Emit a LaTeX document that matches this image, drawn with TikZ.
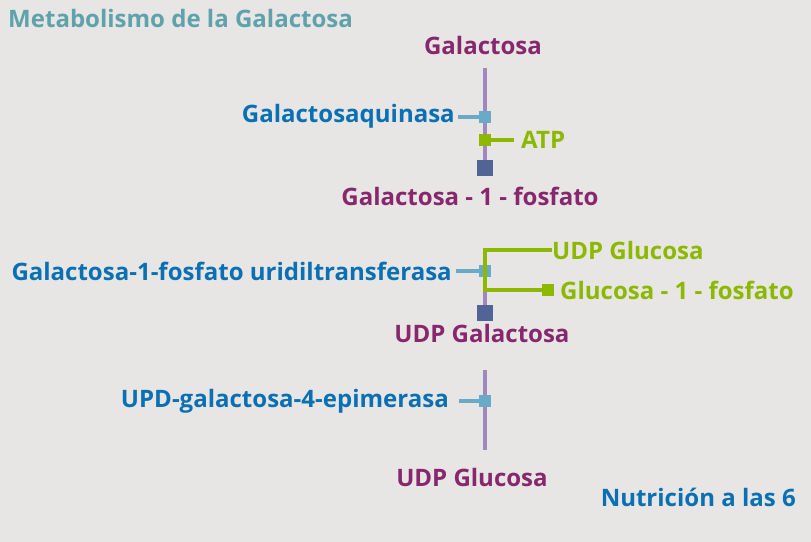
\documentclass[tikz,border=0pt]{standalone}
\usepackage{fontspec}
\setmainfont{Open Sans}
\usetikzlibrary{positioning}

\definecolor{fondo}{RGB}{232,230,228}
\definecolor{titulo}{RGB}{95,162,172}
\definecolor{azul}{RGB}{10,112,180}
\definecolor{morado}{RGB}{135,40,110}
\definecolor{verde}{RGB}{140,185,0}
\definecolor{eje}{RGB}{160,135,190}
\definecolor{enlace}{RGB}{105,170,200}
\definecolor{bloque}{RGB}{80,100,150}

\tikzset{
  txt/.style={font=\bfseries\fontsize{20.5}{23}\selectfont, inner sep=0pt},
  sustrato/.style={txt, text=morado},
  enzima/.style={txt, text=azul, anchor=east},
  cofactor/.style={txt, text=verde, anchor=west},
  sqenz/.style={fill=enlace, minimum size=10pt, inner sep=0pt},
  sqverde/.style={fill=verde, minimum size=10pt, inner sep=0pt},
  sqfin/.style={fill=bloque, minimum size=14pt, inner sep=0pt},
}

\begin{document}
\begin{tikzpicture}[x=0.03cm, y=-0.03cm]

% Background
\fill[fondo] (0,0) rectangle (811,542);
\useasboundingbox (0,0) rectangle (811,542);

% Axis position
\def\X{485}

% Titles
\node[txt, text=titulo, anchor=west] (title) at (8,18) {Metabolismo de la Galactosa};
\node[txt, text=azul, anchor=east] (credit) at (796,497) {Nutrición a las 6};

% Substrates
\node[sustrato] (gal) at (483,45) {Galactosa};
\node[sustrato] (gal1p) at (470,196) {Galactosa - 1 - fosfato};
\node[sustrato] (udpgal) at (482,333) {UDP Galactosa};
\node[sustrato] (udpglc) at (472,477) {UDP Glucosa};

% Axis ends
\coordinate (a1) at (\X,68);
\coordinate (a2) at (\X,250);
\coordinate (a3) at (\X,370);
\coordinate (b3) at (\X,450);

% Squares on the axis
\node[sqenz] (s1) at (\X,117) {};
\node[sqverde] (s2) at (\X,140) {};
\node[sqfin] (s3) at (\X,168) {};
\node[sqenz] (s4) at (\X,271) {};
\node[sqfin] (s5) at (\X,313) {};
\node[sqenz] (s6) at (\X,401) {};

% Purple axis
\draw[eje, line width=3.5pt] (a1) -- (s3.north);
\draw[eje, line width=3.5pt] (a2) -- (s5.north);
\draw[eje, line width=3.5pt] (a3) -- (b3);
\node[sqenz] at (s1) {};
\node[sqverde] at (s2) {};
\node[sqenz] at (s4) {};
\node[sqenz] at (s6) {};

% Enzymes
\node[enzima] (galq) at (455,116) {Galactosaquinasa};
\node[enzima] (transf) at (452,271) {Galactosa-1-fosfato uridiltransferasa};
\node[enzima] (epim) at (449,401) {UPD-galactosa-4-epimerasa};

\draw[enlace, line width=3pt] (galq.east) ++(3,1) -- (s1.center);
\draw[enlace, line width=3pt] (transf.east) ++(4,0) -- (s4.center);
\draw[enlace, line width=3pt] (epim.east) ++(10,0) -- (s6.center);

% Cofactors
\node[cofactor] (atp) at (521,140) {ATP};
\draw[verde, line width=3pt] (s2.center) -- ([xshift=-6]atp.west);

\node[cofactor] (udpglcin) at (552,250) {UDP Glucosa};
\node[cofactor] (glc1p) at (560,290) {Glucosa - 1 - fosfato};
\node[sqverde] (s7) at (548,290) {};
\draw[verde, line width=3pt] (udpglcin.west) -- (\X,250) -- (\X,290) -- (s7.center);

\end{tikzpicture}
\end{document}
